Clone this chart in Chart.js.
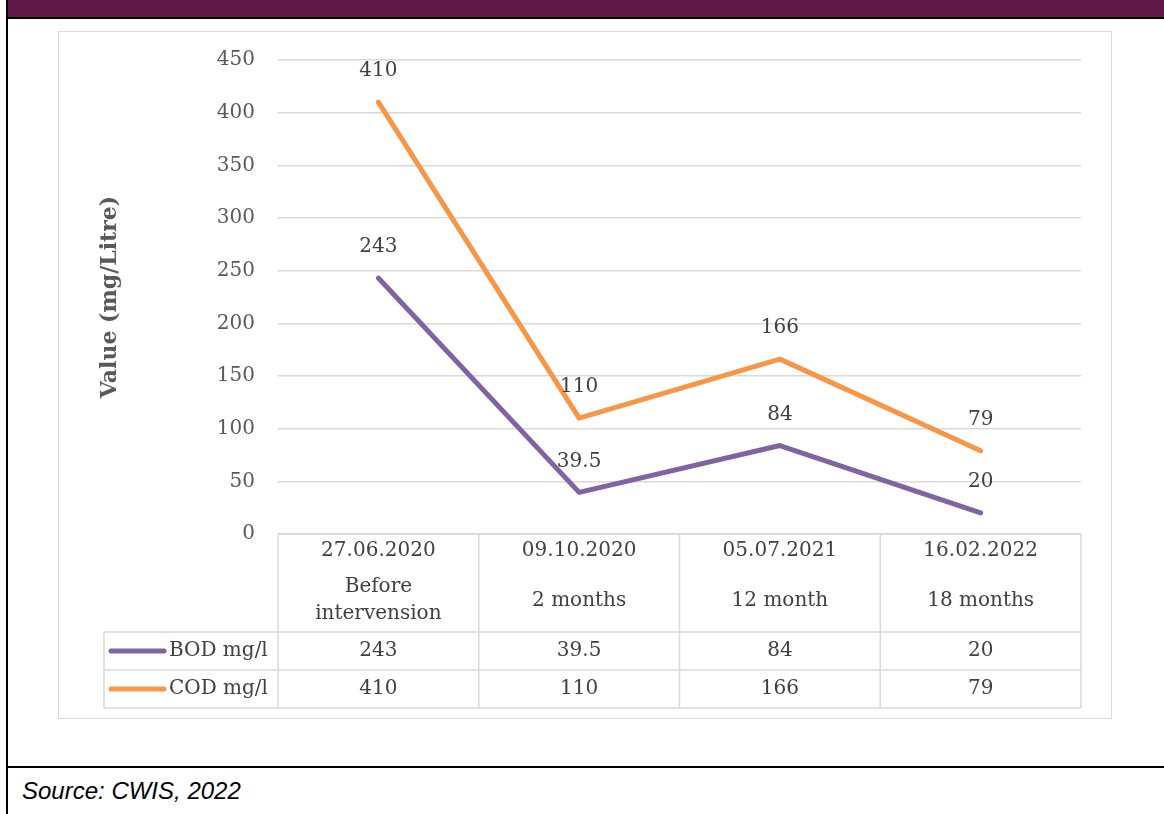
<!DOCTYPE html>
<html>
<head>
<meta charset="utf-8">
<script src="https://cdn.jsdelivr.net/npm/chart.js@4/dist/chart.umd.min.js"></script>
<style>
  html, body { margin: 0; padding: 0; background: #fff; }
  body { width: 1164px; height: 814px; position: relative; overflow: hidden; }
  #topbar { position: absolute; left: 8px; top: 0; width: 1156px; height: 17px; background: #5F1848; }
  #topline { position: absolute; left: 7px; top: 17px; width: 1157px; height: 2px; background: #000; }
  #leftline { position: absolute; left: 6px; top: 0; width: 2px; height: 814px; background: #000; }
  #bottomline { position: absolute; left: 7px; top: 766px; width: 1157px; height: 2px; background: #000; }
  #chartbox { position: absolute; left: 58px; top: 31px; width: 1052px; height: 686px; border: 1.5px solid #D9D9D9; }
  #source { position: absolute; left: 22px; top: 777px; font-family: "Liberation Sans", Arial, sans-serif; font-style: italic; font-size: 24px; color: #000; }
  canvas { position: absolute; left: 0; top: 0; }
</style>
</head>
<body>
<div id="topbar"></div>
<div id="topline"></div>
<div id="leftline"></div>
<div id="bottomline"></div>
<div id="chartbox"></div>
<div id="source">Source: CWIS, 2022</div>
<canvas id="c" width="1164" height="814"></canvas>
<script>
const dates = ["27.06.2020", "09.10.2020", "05.07.2021", "16.02.2022"];
const periods = [["Before", "intervension"], ["2 months"], ["12 month"], ["18 months"]];
const bodValues = [243, 39.5, 84, 20];
const codValues = [410, 110, 166, 79];
const bodLabels = ["243", "39.5", "84", "20"];
const codLabels = ["410", "110", "166", "79"];
const seriesNames = ["BOD mg/l", "COD mg/l"];
const yTitle = "Value (mg/Litre)";

const FONT = '"DejaVu Serif", "Liberation Serif", serif';
const TEXT = '#404040';
const GRID = '#D9D9D9';
const PURPLE = '#8064A2';
const ORANGE = '#F79646';

const tablePlugin = {
  id: 'tablePlugin',
  afterDraw(chart) {
    const ctx = chart.ctx;
    const x = chart.scales.x;
    const y = chart.scales.y;
    const n = dates.length;
    const left = x.left, right = x.right;
    const cw = (right - left) / n;
    const top = y.getPixelForValue(0);
    const headerBottom = top + 98;
    const rowH = 38;
    const legendLeft = 104;
    ctx.save();

    // data labels
    ctx.font = '20px ' + FONT;
    ctx.fillStyle = TEXT;
    ctx.textAlign = 'center';
    ctx.textBaseline = 'middle';
    const labelSets = [bodLabels, codLabels];
    chart.data.datasets.forEach((ds, di) => {
      const meta = chart.getDatasetMeta(di);
      meta.data.forEach((pt, i) => {
        ctx.fillText(labelSets[di][i], pt.x, pt.y - 31);
      });
    });

    // y title
    ctx.save();
    ctx.translate(110, (chart.chartArea.top + top) / 2);
    ctx.rotate(-Math.PI / 2);
    ctx.font = 'bold 22px ' + FONT;
    ctx.fillStyle = '#595959';
    ctx.fillText(yTitle, 0, 0);
    ctx.restore();

    // table lines
    ctx.strokeStyle = GRID;
    ctx.lineWidth = 1.5;
    ctx.beginPath();
    for (let i = 0; i <= n; i++) {
      const xx = left + i * cw;
      ctx.moveTo(xx, top);
      ctx.lineTo(xx, headerBottom + 2 * rowH);
    }
    ctx.moveTo(left, top); ctx.lineTo(right, top);
    for (let r = 0; r <= 2; r++) {
      const yy = headerBottom + r * rowH;
      ctx.moveTo(legendLeft, yy); ctx.lineTo(right, yy);
    }
    ctx.moveTo(legendLeft, headerBottom); ctx.lineTo(legendLeft, headerBottom + 2 * rowH);
    ctx.stroke();

    // header text
    ctx.fillStyle = TEXT;
    ctx.font = '20px ' + FONT;
    for (let i = 0; i < n; i++) {
      const cx = x.getPixelForValue(i);
      ctx.fillText(dates[i], cx, top + 17);
      const p = periods[i];
      if (p.length === 2) {
        ctx.fillText(p[0], cx, top + 53);
        ctx.fillText(p[1], cx, top + 80);
      } else {
        ctx.fillText(p[0], cx, top + 67);
      }
    }

    // rows
    const colors = [PURPLE, ORANGE];
    for (let r = 0; r < 2; r++) {
      const cy = headerBottom + r * rowH + rowH / 2;
      ctx.strokeStyle = colors[r];
      ctx.lineWidth = 5;
      ctx.lineCap = 'round';
      ctx.beginPath();
      ctx.moveTo(111, cy); ctx.lineTo(164, cy);
      ctx.stroke();
      ctx.textAlign = 'left';
      ctx.fillStyle = TEXT;
      ctx.fillText(seriesNames[r], 169, cy);
      ctx.textAlign = 'center';
      for (let i = 0; i < n; i++) {
        ctx.fillText(labelSets[r][i], x.getPixelForValue(i), cy);
      }
    }
    ctx.restore();
  }
};

new Chart(document.getElementById('c'), {
  type: 'line',
  data: {
    labels: dates,
    datasets: [
      { label: seriesNames[0], data: bodValues, borderColor: PURPLE, backgroundColor: PURPLE, borderWidth: 5, pointRadius: 0, tension: 0, borderJoinStyle: 'round', borderCapStyle: 'round' },
      { label: seriesNames[1], data: codValues, borderColor: ORANGE, backgroundColor: ORANGE, borderWidth: 5, pointRadius: 0, tension: 0, borderJoinStyle: 'round', borderCapStyle: 'round' }
    ]
  },
  options: {
    responsive: false,
    animation: false,
    layout: { padding: { left: 0, top: 60, right: 83, bottom: 280 } },
    plugins: { legend: { display: false }, tooltip: { enabled: false } },
    scales: {
      x: { type: 'category', offset: true, display: false },
      y: {
        min: 0, max: 450,
        ticks: { stepSize: 50, color: '#595959', font: { family: FONT, size: 20 }, padding: 23 },
        grid: { color: GRID, lineWidth: 1.5, drawTicks: false },
        border: { display: false },
        afterFit(scale) { scale.width = 278; }
      }
    }
  },
  plugins: [tablePlugin]
});
</script>
</body>
</html>
